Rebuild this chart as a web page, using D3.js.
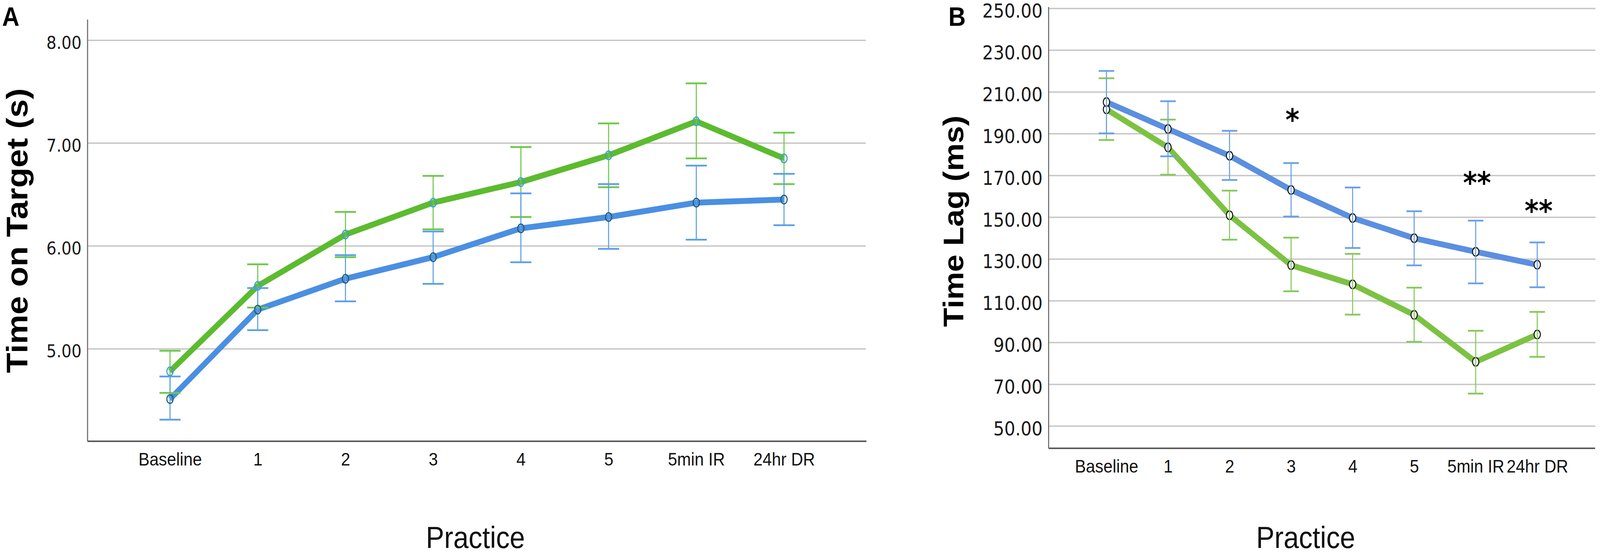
<!DOCTYPE html>
<html>
<head>
<meta charset="utf-8">
<script src="https://cdn.jsdelivr.net/npm/d3@7"></script>
<style>
  html, body { margin: 0; padding: 0; background: #fff; overflow: hidden; }
  svg { display: block; width: 100vw; height: 100vh; }
</style>
</head>
<body>
<svg id="chart" viewBox="0 0 4550 1420" preserveAspectRatio="none"></svg>
<script>
// categories shared by both panels
const categories = ['Baseline', '1', '2', '3', '4', '5', '5min IR', '24hr DR'];

// Panel A: time on target (s)
const targetBlue     = [4.51, 5.38, 5.68, 5.89, 6.17, 6.28, 6.42, 6.45];
const targetBlueHi   = [4.73, 5.59, 5.91, 6.14, 6.51, 6.60, 6.78, 6.70];
const targetBlueLo   = [4.31, 5.18, 5.46, 5.63, 5.84, 5.97, 6.06, 6.20];
const targetGreen    = [4.78, 5.61, 6.11, 6.42, 6.62, 6.88, 7.21, 6.85];
const targetGreenHi  = [4.98, 5.82, 6.33, 6.68, 6.96, 7.19, 7.58, 7.10];
const targetGreenLo  = [4.57, 5.40, 5.89, 6.16, 6.28, 6.57, 6.85, 6.60];
const targetTicks    = [5, 6, 7, 8];

// Panel B: time lag (ms)
const lagBlue     = [205.1, 192.2, 179.4, 163.0, 149.6, 139.9, 133.4, 127.2];
const lagBlueHi   = [220.0, 205.5, 191.3, 175.9, 164.2, 152.8, 148.3, 137.9];
const lagBlueLo   = [190.1, 179.1, 167.8, 150.3, 135.2, 126.9, 118.3, 116.4];
const lagGreen    = [201.6, 183.4, 150.9, 127.0, 117.8, 103.2, 80.7, 93.8];
const lagGreenHi  = [216.5, 196.7, 162.7, 140.2, 132.4, 116.2, 95.6, 104.6];
const lagGreenLo  = [186.9, 170.3, 139.2, 114.5, 103.3, 90.3, 65.5, 83.1];
const lagTicks    = [50, 70, 90, 110, 130, 150, 170, 190, 210, 230, 250];

// significance marks on panel B (category, label, value where the mark sits)
const lagStars = [
  { cat: '3', text: '*', value: 196.9 },
  { cat: '5min IR', text: '**', value: 166.7 },
  { cat: '24hr DR', text: '**', value: 153.3 },
];

function series(mean, lo, hi) {
  return categories.map((c, i) => ({ cat: c, mean: mean[i], lo: lo[i], hi: hi[i] }));
}

const svg = d3.select('#chart');
svg.append('rect').attr('width', 4550).attr('height', 1420).attr('fill', '#fff');

function drawPanel(cfg) {
  const g = svg.append('g');

  const x = d3.scalePoint()
    .domain(categories)
    .range([cfg.left, cfg.right])
    .padding(0.94);

  const y = d3.scaleLinear()
    .domain(cfg.domain)
    .range([cfg.bottom, cfg.top]);

  // gridlines + tick labels
  const yAxis = g.append('g')
    .attr('transform', `translate(${cfg.left},0)`)
    .call(d3.axisLeft(y)
      .tickValues(cfg.ticks)
      .tickFormat(d3.format('.2f'))
      .tickSize(-(cfg.gridRight - cfg.left))
      .tickPadding(17));
  yAxis.select('.domain').remove();
  yAxis.selectAll('.tick line')
    .attr('stroke', '#c6c6c6')
    .attr('stroke-width', 3.5);
  yAxis.selectAll('.tick text')
    .attr('fill', '#1a1a1a')
    .attr('dy', '0.48em')
    .style('font-family', 'DejaVu Sans')
    .style('font-size', cfg.tickFont + 'px');

  // category labels
  const xAxis = g.append('g')
    .attr('transform', `translate(0,${cfg.bottom})`)
    .call(d3.axisBottom(x).tickSize(0).tickPadding(29));
  xAxis.select('.domain').remove();
  xAxis.selectAll('.tick text')
    .attr('fill', '#111')
    .style('font-family', 'Liberation Sans')
    .style('font-size', '47px');

  // axis lines
  g.append('line')
    .attr('x1', cfg.left).attr('x2', cfg.left)
    .attr('y1', cfg.top).attr('y2', cfg.bottom)
    .attr('stroke', '#6a6a6a').attr('stroke-width', 3);
  g.append('line')
    .attr('x1', cfg.left).attr('x2', cfg.right)
    .attr('y1', cfg.bottom).attr('y2', cfg.bottom)
    .attr('stroke', '#5a5a5a').attr('stroke-width', 4);

  const line = d3.line()
    .x((d) => x(d.cat))
    .y((d) => y(d.mean));

  const drawLines = () => {
    cfg.series.forEach((s) => {
      g.append('path')
        .datum(s.data)
        .attr('fill', 'none')
        .attr('stroke', s.color)
        .attr('stroke-width', cfg.lineWidth)
        .attr('stroke-linejoin', 'round')
        .attr('d', line);
    });
  };

  const drawBars = () => {
    cfg.series.forEach((s) => {
      const bars = g.append('g').attr('stroke', s.barColor);
      bars.selectAll('line.v')
        .data(s.data)
        .join('line')
        .attr('class', 'v')
        .attr('x1', (d) => x(d.cat)).attr('x2', (d) => x(d.cat))
        .attr('y1', (d) => y(d.lo)).attr('y2', (d) => y(d.hi))
        .attr('stroke-width', 3);
      ['lo', 'hi'].forEach((k) => {
        bars.selectAll('line.' + k)
          .data(s.data)
          .join('line')
          .attr('class', k)
          .attr('x1', (d) => x(d.cat) - cfg.capWidth / 2)
          .attr('x2', (d) => x(d.cat) + cfg.capWidth / 2)
          .attr('y1', (d) => y(d[k])).attr('y2', (d) => y(d[k]))
          .attr('stroke-width', 4.5);
      });
    });
  };

  const drawDots = () => {
    cfg.series.forEach((s) => {
      g.append('g')
        .selectAll('ellipse')
        .data(s.data)
        .join('ellipse')
        .attr('cx', (d) => x(d.cat))
        .attr('cy', (d) => y(d.mean))
        .attr('rx', 9)
        .attr('ry', 11)
        .attr('fill', cfg.dotFill)
        .attr('stroke', s.dotStroke)
        .attr('stroke-width', 3);
    });
  };

  if (cfg.barsOnTop) {
    drawLines(); drawDots(); drawBars();
  } else {
    drawLines(); drawBars(); drawDots();
  }

  if (cfg.stars) {
    g.selectAll('text.star')
      .data(cfg.stars)
      .join('text')
      .attr('class', 'star')
      .attr('x', (d) => x(d.cat) + 4)
      .attr('y', (d) => y(d.value) + 28)
      .attr('text-anchor', 'middle')
      .style('font-family', 'DejaVu Sans')
      .style('font-weight', 'bold')
      .style('font-size', '76px')
      .attr('fill', '#000')
      .text((d) => d.text);
  }

  // y title
  g.append('text')
    .attr('transform', `translate(${cfg.titleX},${cfg.titleY}) rotate(-90)`)
    .attr('text-anchor', 'middle')
    .attr('dominant-baseline', 'central')
    .style('font-family', 'Liberation Sans')
    .style('font-weight', 'bold')
    .style('font-size', cfg.titleFont + 'px')
    .attr('fill', '#000')
    .text(cfg.yTitle);

  // x title
  g.append('text')
    .attr('x', cfg.practiceX)
    .attr('y', 1402)
    .attr('text-anchor', 'middle')
    .style('font-family', 'Liberation Sans')
    .style('font-size', '78px')
    .attr('fill', '#111')
    .text('Practice');

  // panel letter
  g.append('text')
    .attr('x', cfg.letterX)
    .attr('y', 66)
    .style('font-family', 'Liberation Sans')
    .style('font-weight', 'bold')
    .style('font-size', '68px')
    .attr('fill', '#000')
    .text(cfg.letter);
}

drawPanel({
  letter: 'A', letterX: 6,
  left: 249, right: 2464, gridRight: 2462,
  top: 50, bottom: 1129,
  domain: [4.1, 8.2], ticks: targetTicks, tickFont: 45,
  yTitle: 'Time on Target (s)', titleX: 48, titleY: 590, titleFont: 85,
  practiceX: 1352,
  lineWidth: 15, capWidth: 60, dotFill: 'none', barsOnTop: false,
  series: [
    { data: series(targetGreen, targetGreenLo, targetGreenHi), color: '#5cbb2f', barColor: '#6cc847', dotStroke: '#3a9fd8' },
    { data: series(targetBlue, targetBlueLo, targetBlueHi), color: '#4a8fe2', barColor: '#5c9fea', dotStroke: '#1e5d70' },
  ],
});

drawPanel({
  letter: 'B', letterX: 2697,
  left: 2982, right: 4536, gridRight: 4537,
  top: 18, bottom: 1147,
  domain: [39.3, 250.6], ticks: lagTicks, tickFont: 49,
  yTitle: 'Time Lag (ms)', titleX: 2712, titleY: 566, titleFont: 80,
  practiceX: 3713,
  lineWidth: 15, capWidth: 44, dotFill: '#fff', barsOnTop: true,
  stars: lagStars,
  series: [
    { data: series(lagGreen, lagGreenLo, lagGreenHi), color: '#7cc242', barColor: '#86c95a', dotStroke: '#1a1a1a' },
    { data: series(lagBlue, lagBlueLo, lagBlueHi), color: '#5b8fe0', barColor: '#6aa0ea', dotStroke: '#1a1a1a' },
  ],
});
</script>
</body>
</html>
